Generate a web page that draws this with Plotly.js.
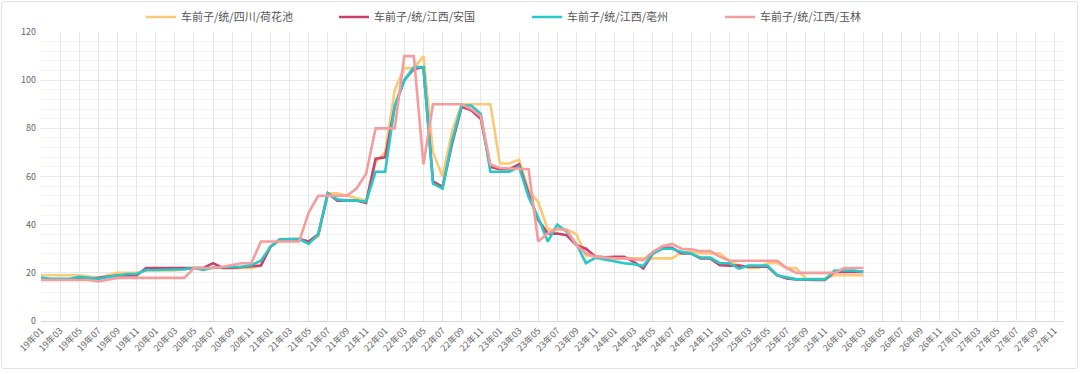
<!DOCTYPE html>
<html>
<head>
<meta charset="utf-8">
<script src="https://cdn.plot.ly/plotly-3.0.1.min.js"></script>
<style>
  html, body { margin: 0; padding: 0; background: #fff; }
  #wrap { position: relative; width: 1080px; height: 374px; }
  #chart { width: 1080px; height: 374px; }
  #frame { position: absolute; left: 1px; top: 1px; width: 1075px; height: 366px;
           border: 1px solid #e3e3e3; border-radius: 3px; pointer-events: none; }
</style>
</head>
<body>
<div id="wrap"><div id="chart"></div><div id="frame"></div></div>
<script>
// Months 19年01 .. 27年12
const months = [];
for (let y = 19; y <= 27; y++) {
  for (let m = 1; m <= 12; m++) {
    months.push(y + '年' + String(m).padStart(2, '0'));
  }
}

const seriesNames = ['车前子/统/四川/荷花池', '车前子/统/江西/安国', '车前子/统/江西/亳州', '车前子/统/江西/玉林'];

// 荷花池 (19年01 .. 26年03)
const heHuaChi = [
  19, 19, 19, 19, 19, 18.5, 18, 19, 20, 20, 20, 21,
  21, 21, 21, 21.5, 22, 22, 22, 22, 22, 22, 22, 23,
  31, 34, 34, 34, 33, 35, 53, 53, 52, 51, 50, 66,
  70, 96, 105, 105, 110, 70, 60, 79, 90, 90, 90, 90,
  65.4, 65.4, 67, 54, 49.5, 38, 38, 38, 36, 27, 27, 26.5,
  26, 26, 26, 26, 26, 26, 26, 28.5, 29, 28, 28, 28,
  25, 23, 22, 22, 24, 24, 22, 22, 17.5, 17.5, 17.5, 19,
  19, 19, 19
];
// 安国
const anGuo = [
  17.8, 17.2, 17.2, 17.2, 17.2, 17.5, 17.9, 18.5, 18.9, 18.9, 18.9, 22,
  22, 22, 22, 22, 22, 22, 24, 22, 22, 22.5, 22.8, 23,
  30.8, 33.8, 34, 34, 33, 36, 53, 50, 50, 50, 49, 67.4,
  68, 89, 100, 104.7, 105.4, 58, 55.7, 73.6, 89, 87.5, 84, 64,
  63, 63, 65, 53, 42, 36.3, 36.3, 35.6, 31.5, 30, 26.7, 26.4,
  26.7, 26.7, 24.6, 21.8, 28, 30.4, 30.4, 28, 28, 26, 26, 23.2,
  23, 23, 22.5, 22.5, 22.5, 19, 17.7, 17.3, 17, 17, 17, 20.4,
  20.4, 20.4, 20.4
];
// 亳州
const boZhou = [
  18, 17.5, 17.5, 17.5, 18.3, 18, 17.5, 18.3, 18.9, 19.5, 19.5, 21.2,
  21.2, 21.2, 21.2, 21.5, 22, 21.2, 22.2, 22.2, 22.5, 22.5, 23.2, 25,
  30.8, 33.8, 34, 34, 32, 36, 52.8, 50.5, 50, 50, 49.5, 62,
  62, 89.5, 100, 105.4, 105.4, 57, 55, 75, 89.5, 89.5, 86, 62,
  62, 62, 64, 51.5, 43, 33, 40, 37, 32, 24, 26.3, 25.6,
  24.6, 24, 23.6, 22.8, 28, 30, 30, 28.7, 28, 26.3, 26.3, 24,
  24, 21.8, 23, 23, 23, 19, 18, 17.3, 17.3, 17.3, 17.3, 21,
  21, 21, 20.4
];
// 玉林
const yuLin = [
  17, 17, 17, 17, 17, 17, 16.4, 17.2, 17.9, 17.9, 17.9, 17.9,
  17.9, 17.9, 17.9, 17.9, 22, 22, 22, 22.5, 23.4, 24, 24, 33,
  33, 33, 33, 33, 45, 52, 52, 52, 52, 55, 61, 80,
  80, 80, 110, 110, 65, 90, 90, 90, 90, 88, 85, 65,
  63.5, 63.3, 63.3, 63, 33, 36.3, 38.4, 37.7, 31.5, 28, 26.7, 26.3,
  26, 26, 25.6, 25.3, 28.7, 31, 32, 30, 29.8, 29, 29, 26.7,
  25, 25, 25, 25, 25, 25, 22, 20, 20, 20, 20, 20,
  22, 22, 22
];

const colors = ['#fbc977', '#c8416a', '#27c8c8', '#f59d9d'];
const seriesData = [heHuaChi, anGuo, boZhou, yuLin];

const font = '"Noto Sans CJK SC", "Noto Sans", sans-serif';

const traces = seriesData.map((vals, k) => ({
  type: 'scatter',
  mode: 'lines',
  name: seriesNames[k],
  x: months.slice(0, vals.length),
  y: vals,
  line: { color: colors[k], width: 2.6 },
  hoverinfo: 'skip'
}));

const layout = {
  width: 1080,
  height: 374,
  margin: { l: 40.5, r: 16, t: 31.5, b: 53, pad: 0 },
  paper_bgcolor: 'rgba(0,0,0,0)',
  plot_bgcolor: '#fff',
  font: { family: font, color: '#666', size: 9 },
  showlegend: true,
  legend: {
    orientation: 'h',
    xref: 'container', yref: 'container',
    x: 0.1306, xanchor: 'left',
    y: 1 - 17 / 374, yanchor: 'middle',
    font: { family: font, size: 11, color: '#555' },
    entrywidth: 148,
    entrywidthmode: 'pixels',
    bgcolor: 'rgba(0,0,0,0)'
  },
  xaxis: {
    type: 'category',
    categoryorder: 'array',
    categoryarray: months,
    range: [0, months.length - 1],
    tickmode: 'linear',
    tick0: 0,
    dtick: 2,
    tickangle: -45,
    tickfont: { family: font, size: 9, color: '#666' },
    showgrid: true,
    gridcolor: '#e6e6e6',
    gridwidth: 1,
    showline: true,
    linecolor: '#d9d9d9',
    linewidth: 1,
    ticks: '',
    zeroline: false,
    fixedrange: true
  },
  yaxis: {
    range: [0, 120],
    tickmode: 'linear',
    tick0: 0,
    dtick: 20,
    tickfont: { family: font, size: 9, color: '#666' },
    showgrid: true,
    gridcolor: '#e6e6e6',
    gridwidth: 1,
    minor: { dtick: 4, showgrid: true, gridcolor: '#f4f4f4', gridwidth: 1 },
    showline: false,
    zeroline: false,
    ticks: '',
    ticklabelstandoff: 4,
    fixedrange: true
  }
};

Plotly.newPlot('chart', traces, layout, { staticPlot: true, displayModeBar: false });
</script>
</body>
</html>
